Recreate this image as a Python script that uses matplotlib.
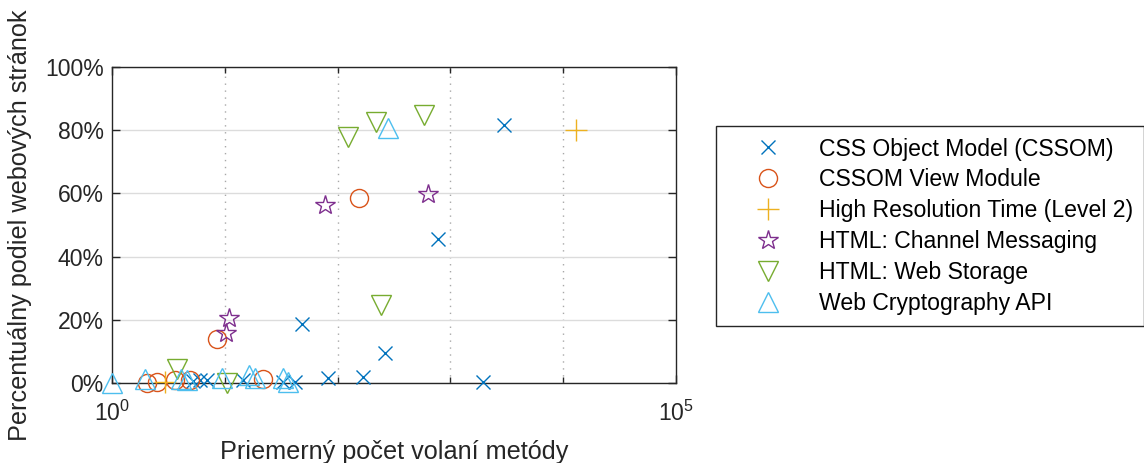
import math
import matplotlib
matplotlib.use("Agg")
import matplotlib.pyplot as plt
from matplotlib.ticker import FixedLocator, NullFormatter, FuncFormatter

plt.rcParams['font.family'] = ['Liberation Sans', 'DejaVu Sans']
plt.rcParams['mathtext.default'] = 'regular'

# ---- data ----
series_names = ["CSS Object Model (CSSOM)", "CSSOM View Module",
                "High Resolution Time (Level 2)", "HTML: Channel Messaging",
                "HTML: Web Storage", "Web Cryptography API"]

cssom_x = [2985, 776, 48, 263, 168, 82, 1950, 5.2, 6.0, 7.0, 14.5, 33, 42]
cssom_y = [81.6, 45.5, 18.8, 9.5, 2.0, 1.6, 0.3, 0.5, 0.8, 0.8, 0.8, 0.3, 0.3]

view_x = [2.03, 2.5, 3.6, 4.9, 8.6, 155, 21.9]
view_y = [0.0, 0.3, 0.8, 0.8, 13.8, 58.4, 1.2]

hrt_x = [2.95, 12900]
hrt_y = [0.3, 80.0]

chan_x = [10.2, 11.0, 77, 632]
chan_y = [15.9, 20.5, 56.3, 59.8]

storage_x = [3.74, 10.4, 124, 219, 584, 243]
storage_y = [4.5, 0.0, 77.8, 82.6, 84.8, 24.7]

crypto_x = [1.0, 1.96, 4.1, 4.6, 9.4, 16.5, 18.5, 33, 36, 280]
crypto_y = [0.0, 1.2, 1.2, 1.0, 1.5, 2.5, 1.5, 1.5, 0.3, 80.7]

y_ticks = [0, 20, 40, 60, 80, 100]

# ---- plotting ----
FS = 16.6
LFS = 18.2
fig = plt.figure(figsize=(11.44, 4.63), dpi=100)
ax = fig.add_axes([112/1144, 80/463, 564/1144, 316/463])

styles = [
    (cssom_x, cssom_y, 'x', '#0072BD', 10),
    (view_x, view_y, 'o', '#D95319', 13),
    (hrt_x, hrt_y, '+', '#EDB120', 16),
    (chan_x, chan_y, '*', '#7E2F8E', 15),
    (storage_x, storage_y, 'v', '#77AC30', 15),
    (crypto_x, crypto_y, '^', '#4DBEEE', 15),
]
for (xs, ys, m, c, ms), name in zip(styles, series_names):
    ax.plot(xs, ys, linestyle='none', marker=m, markersize=ms,
            markerfacecolor='none', markeredgecolor=c, markeredgewidth=1.0,
            label=name, clip_on=False, zorder=3)

ax.set_xscale('log')
ax.set_xlim(1, 1e5)
ax.set_ylim(0, 100)
ax.xaxis.set_major_locator(FixedLocator([1, 1e5]))
ax.xaxis.set_minor_locator(FixedLocator([10, 100, 1000, 10000]))
ax.xaxis.set_minor_formatter(NullFormatter())
ax.xaxis.set_major_formatter(FuncFormatter(lambda v, p: '10$^{%d}$' % round(math.log10(v))))
ax.set_yticks(y_ticks)
ax.set_yticklabels(['%d%%' % t for t in y_ticks])

ax.grid(True, which='major', axis='y', color='#dcdcdc', linestyle='-', linewidth=1.0)
ax.grid(True, which='minor', axis='x', color='#a8a8a8', linestyle=(0, (1, 4)), linewidth=1.0)
ax.set_axisbelow(True)

ax.tick_params(axis='both', which='both', direction='in', top=True, right=True,
               labelsize=FS, colors='#262626', width=1.0)
ax.tick_params(axis='both', which='major', length=6)
ax.tick_params(axis='x', which='minor', length=4)
ax.tick_params(axis='x', which='major', pad=13)
ax.tick_params(axis='y', which='major', pad=6)
for sp in ax.spines.values():
    sp.set_color('#262626')
    sp.set_linewidth(1.0)

ax.set_xlabel('Priemerný počet volaní metódy', fontsize=LFS, color='#262626', labelpad=10)
ax.set_ylabel('Percentuálny podiel webových stránok', fontsize=LFS, color='#262626', labelpad=9)

leg = fig.legend(loc='upper left', bbox_to_anchor=(716/1144, 1 - 126/463),
                 fontsize=FS, frameon=True, fancybox=False, framealpha=1,
                 edgecolor='#262626', labelspacing=0.34, borderpad=0.5,
                 handlelength=3.5, handletextpad=0.45, borderaxespad=0)
leg.get_frame().set_linewidth(1.0)

fig.savefig('out.png', dpi=100)
